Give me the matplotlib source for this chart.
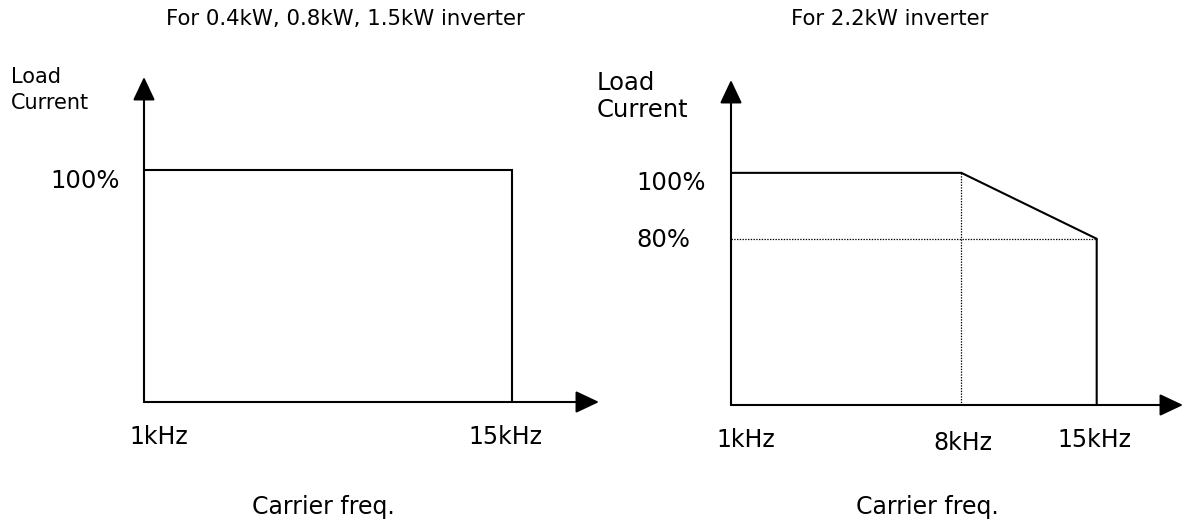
import numpy as np
import matplotlib
matplotlib.use("Agg")
import matplotlib.pyplot as plt

# ---------------- data ----------------
left_title = "For 0.4kW, 0.8kW, 1.5kW inverter"
right_title = "For 2.2kW inverter"
y_axis_label = ["Load", "Current"]
x_axis_label = "Carrier freq."

left_freq_ticks = [1, 15]
left_freq_labels = ["1kHz", "15kHz"]
right_freq_ticks = [1, 8, 15]
right_freq_labels = ["1kHz", "8kHz", "15kHz"]

left_load_ticks = [100]
left_load_labels = ["100%"]
right_load_ticks = [100, 80]
right_load_labels = ["100%", "80%"]

# derating curves (frequency kHz, load %)
left_curve_freq = [1, 15, 15]
left_curve_load = [100, 100, 0]
right_curve_freq = [1, 8, 15, 15]
right_curve_load = [100, 100, 80, 0]

# dotted guides on right chart
right_guide_v_freq = [8, 8]
right_guide_v_load = [100, 0]
right_guide_h_freq = [1, 15]
right_guide_h_load = [80, 80]

# ---------------- schematic scales ----------------
def make_pw(xs, ys):
    xs = np.asarray(xs, float)
    ys = np.asarray(ys, float)
    def f(v):
        v = np.asarray(v, float)
        out = np.interp(v, xs, ys)
        out = np.where(v < xs[0], ys[0] + (v - xs[0]) * (ys[1] - ys[0]) / (xs[1] - xs[0]), out)
        out = np.where(v > xs[-1], ys[-1] + (v - xs[-1]) * (ys[-1] - ys[-2]) / (xs[-1] - xs[-2]), out)
        return out
    return f

x_knots_in, x_knots_out = [1, 8, 15], [0, 0.63, 1.0]
y_knots_in, y_knots_out = [0, 80, 100], [0, 0.716, 1.0]
xf, xi = make_pw(x_knots_in, x_knots_out), make_pw(x_knots_out, x_knots_in)
yf, yi = make_pw(y_knots_in, y_knots_out), make_pw(y_knots_out, y_knots_in)

W, H = 1184, 521
fig = plt.figure(figsize=(W / 100, H / 100), dpi=100)
plt.rcParams['font.family'] = ['DejaVu Sans']

def ax_at(left, right, bottom, top):
    return fig.add_axes([left / W, 1 - bottom / H, (right - left) / W, (bottom - top) / H])

def fpx(x, y):
    return x / W, 1 - y / H

axL = ax_at(144, 599, 402, 77)
axR = ax_at(731, 1183, 405, 80)

LW = 1.5
for ax in (axL, axR):
    ax.set_xscale('function', functions=(xf, xi))
    ax.set_yscale('function', functions=(yf, yi))
    ax.set_xlim(1, float(xi(1.236)))
    ax.set_ylim(0, float(yi(1.40)))
    ax.axis('off')
    ax.patch.set_alpha(0)
    arrow = dict(arrowstyle='-|>,head_length=0.72,head_width=0.34', mutation_scale=20,
                 color='black', lw=LW, shrinkA=0, shrinkB=0)
    ax.annotate('', xy=(1, 0), xytext=(0, 0), xycoords='axes fraction',
                textcoords='axes fraction', arrowprops=arrow, annotation_clip=False)
    ax.annotate('', xy=(0, 1), xytext=(0, 0), xycoords='axes fraction',
                textcoords='axes fraction', arrowprops=arrow, annotation_clip=False)

# curves
axL.plot(left_curve_freq, left_curve_load, color='black', lw=LW, solid_joinstyle='miter')
axR.plot(right_curve_freq, right_curve_load, color='black', lw=LW, solid_joinstyle='miter')
axR.plot(right_guide_v_freq, right_guide_v_load, color='black', lw=0.9, linestyle=(0, (1.1, 1.1)))
axR.plot(right_guide_h_freq, right_guide_h_load, color='black', lw=0.9, linestyle=(0, (1.1, 1.1)))

# frequency labels (offsets in pixels)
left_freq_off = [(15, -35), (-7, -35)]
right_freq_off = [(15, -35), (1, -38), (-2, -35)]
for ax, ticks, labels, offs in ((axL, left_freq_ticks, left_freq_labels, left_freq_off),
                                (axR, right_freq_ticks, right_freq_labels, right_freq_off)):
    for t, lab, (dx, dy) in zip(ticks, labels, offs):
        ax.annotate(lab, xy=(t, 0), xycoords='data', xytext=(dx, dy), textcoords='offset pixels',
                    ha='center', va='center', fontsize=17, annotation_clip=False)

# load labels
left_load_off = [(-94, -11)]
right_load_off = [(-95, -10), (-95, -1)]
for ax, ticks, labels, offs in ((axL, left_load_ticks, left_load_labels, left_load_off),
                                (axR, right_load_ticks, right_load_labels, right_load_off)):
    for t, lab, (dx, dy) in zip(ticks, labels, offs):
        ax.annotate(lab, xy=(0, t), xycoords=ax.get_yaxis_transform(), xytext=(dx, dy),
                    textcoords='offset pixels', ha='left', va='center', fontsize=17.5,
                    annotation_clip=False)

# titles and axis labels
fig.text(*fpx(345, 19), left_title, ha='center', va='center', fontsize=15.3)
fig.text(*fpx(890, 19), right_title, ha='center', va='center', fontsize=15.3)
fig.text(*fpx(11, 77), y_axis_label[0], ha='left', va='center', fontsize=15)
fig.text(*fpx(11, 103), y_axis_label[1], ha='left', va='center', fontsize=15)
fig.text(*fpx(597, 83), y_axis_label[0], ha='left', va='center', fontsize=17.5)
fig.text(*fpx(597, 110), y_axis_label[1], ha='left', va='center', fontsize=17.5)
fig.text(*fpx(323, 507), x_axis_label, ha='center', va='center', fontsize=17)
fig.text(*fpx(927, 507), x_axis_label, ha='center', va='center', fontsize=17)

fig.savefig("out.png", dpi=100, facecolor='white')
